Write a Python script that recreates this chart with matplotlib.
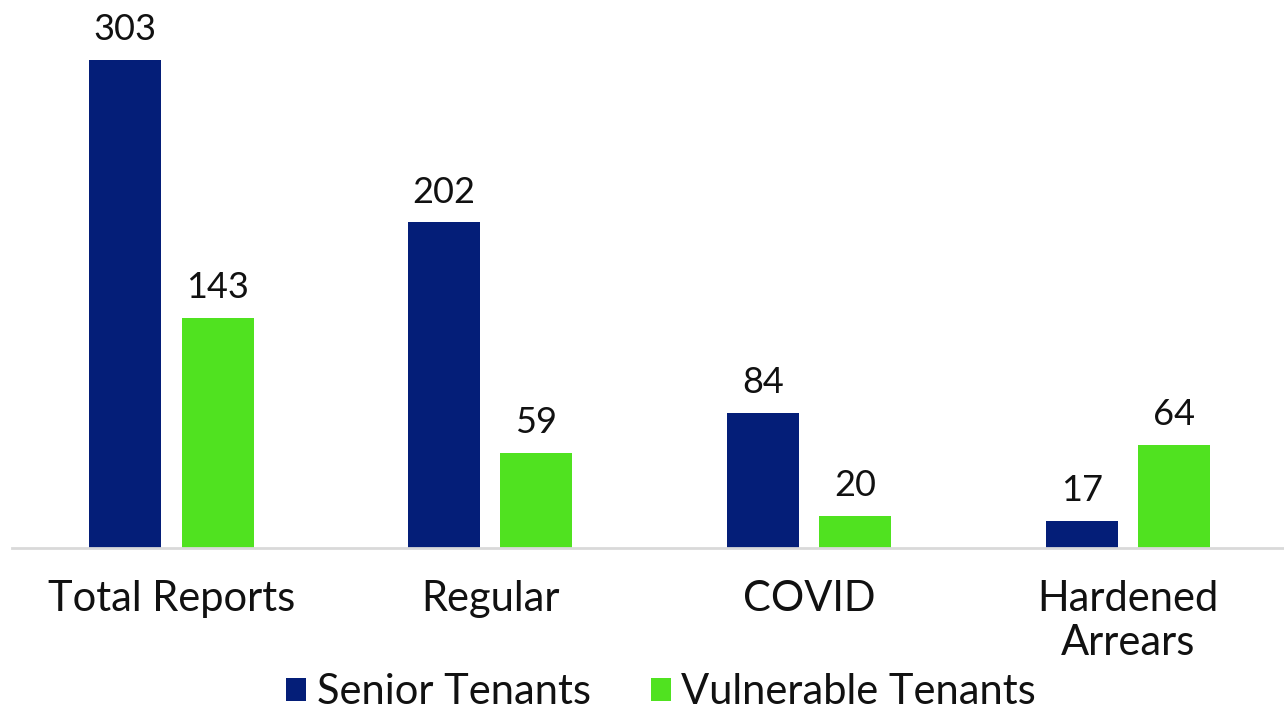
import numpy as np
import matplotlib
matplotlib.use("Agg")
import matplotlib.pyplot as plt

categories = ["Total Reports", "Regular", "COVID", "Hardened\nArrears"]
senior = [303, 202, 84, 17]
vulnerable = [143, 59, 20, 64]
series_names = ["Senior Tenants", "Vulnerable Tenants"]

navy = "#041E78"
green = "#50E220"

plt.rcParams['font.family'] = ['Lato', 'DejaVu Sans']

fig = plt.figure(figsize=(12.84, 7.09), dpi=100)
ax = fig.add_axes([12 / 1284, (709 - 548) / 709, 1272 / 1284, 548 / 709])

x = np.arange(len(categories))
w = 0.226
off = 0.145
b1 = ax.bar(x - off, senior, w, color=navy, label=series_names[0])
b2 = ax.bar(x + off, vulnerable, w, color=green, label=series_names[1])

for bars in (b1, b2):
    for rect in bars:
        h = rect.get_height()
        ax.annotate(f"{h:.0f}", (rect.get_x() + rect.get_width() / 2, h),
                    xytext=(0, 10), textcoords="offset points",
                    ha="center", va="bottom", fontsize=26, color="#111111")

ax.set_xlim(-0.5, 3.49)
ax.set_ylim(0, 340)
ax.set_yticks([])
ax.set_xticks(x)
ax.set_xticklabels(categories, fontsize=30, color="#111111", linespacing=1.2)
ax.tick_params(axis="x", length=0, pad=23)
for s in ["top", "right", "left"]:
    ax.spines[s].set_visible(False)
ax.spines["bottom"].set_color("#D9D9D9")
ax.spines["bottom"].set_linewidth(2)

fig.legend(handles=[b1, b2], labels=series_names, loc="center",
           bbox_to_anchor=(661 / 1284, 1 - 692 / 709), ncol=2, frameon=False,
           fontsize=30, handlelength=0.48, handleheight=0.48, handletextpad=0.26,
           columnspacing=1.44, labelcolor="#111111")

fig.savefig("out.png", dpi=100)
